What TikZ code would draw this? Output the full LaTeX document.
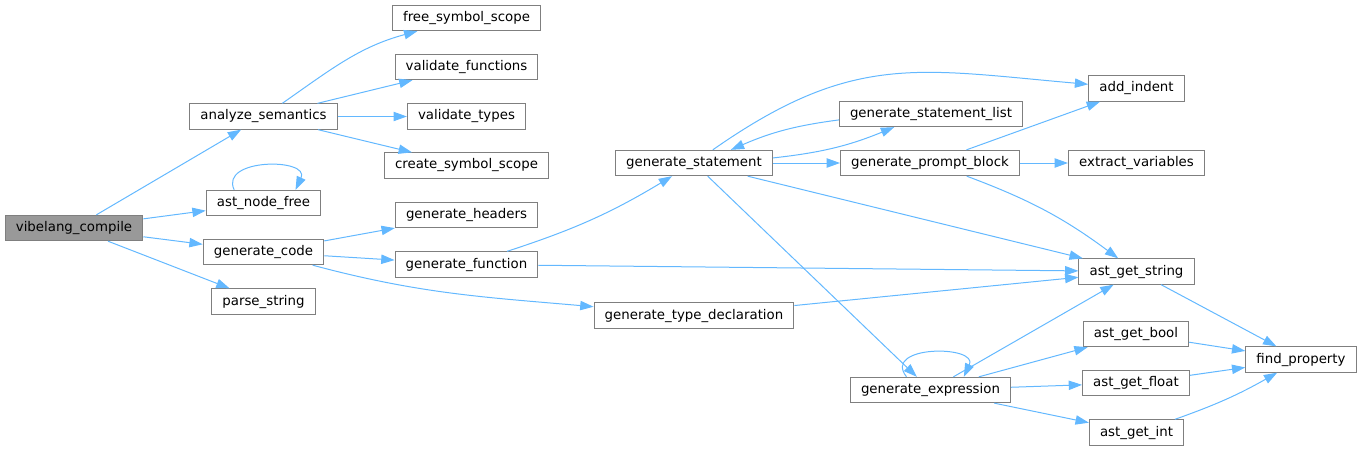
\documentclass[tikz,border=0pt]{standalone}
\usepackage{fontspec}
\setmainfont{DejaVu Sans}
\usetikzlibrary{arrows.meta}
\definecolor{edgeblue}{HTML}{63B8FF}
\definecolor{boxgray}{HTML}{7F7F7F}
\definecolor{rootgray}{HTML}{999999}
\tikzset{
  fn/.style={draw=boxgray, fill=white, line width=0.75pt, minimum height=19pt,
    inner xsep=8pt, inner ysep=0pt, font=\fontsize{10}{12}\selectfont},
  root/.style={fn, fill=rootgray},
  callarrow/.style={draw=edgeblue, line width=0.75pt, -{Triangle[length=10pt,width=7pt]}},
}
\begin{document}
\begin{tikzpicture}[x=0.75pt, y=0.75pt]
    \useasboundingbox (0,0) rectangle (1365,-451);

    % Startknoten
    \node[root] (compile) at (74,-228) {vibelang\_compile};

    % erste Ebene
    \node[fn] (semantics) at (263.5,-116.5) {analyze\_semantics};
    \node[fn] (nodefree) at (263.5,-203) {ast\_node\_free};
    \node[fn] (code) at (263.5,-252) {generate\_code};
    \node[fn] (parse) at (263.5,-301.5) {parse\_string};

    % zweite Ebene
    \node[fn] (freescope) at (466.5,-18) {free\_symbol\_scope};
    \node[fn] (valfun) at (466.5,-67) {validate\_functions};
    \node[fn] (valtypes) at (466.5,-116.5) {validate\_types};
    \node[fn] (createscope) at (466.5,-165.5) {create\_symbol\_scope};
    \node[fn] (headers) at (466.5,-215) {generate\_headers};
    \node[fn] (function) at (466.5,-264.5) {generate\_function};

    % dritte Ebene
    \node[fn] (statement) at (694,-163) {generate\_statement};
    \node[fn] (typedecl) at (694,-315.5) {generate\_type\_declaration};

    % vierte Ebene
    \node[fn] (stmtlist) at (931,-114) {generate\_statement\_list};
    \node[fn] (prompt) at (930,-163) {generate\_prompt\_block};
    \node[fn] (expression) at (930.5,-390) {generate\_expression};

    % fuenfte Ebene
    \node[fn] (indent) at (1136.5,-88.5) {add\_indent};
    \node[fn] (extract) at (1136.5,-163) {extract\_variables};
    \node[fn] (getstring) at (1136.5,-271.5) {ast\_get\_string};
    \node[fn] (getbool) at (1136,-334) {ast\_get\_bool};
    \node[fn] (getfloat) at (1136,-383) {ast\_get\_float};
    \node[fn] (getint) at (1136.5,-432.5) {ast\_get\_int};

    % letzte Ebene
    \node[fn] (findprop) at (1301,-359.5) {find\_property};

    % Aufrufe von vibelang_compile
    \draw[callarrow] (compile) -- (semantics);
    \draw[callarrow] (compile) -- (nodefree);
    \draw[callarrow] (compile) -- (code);
    \draw[callarrow] (compile) -- (parse);
    \draw[callarrow] ([xshift=-22pt]nodefree.north) .. controls +(-15,32) and +(15,32) .. ([xshift=24pt]nodefree.north);

    % Aufrufe von analyze_semantics
    \draw[callarrow] (semantics) to[out=35, in=195] (freescope);
    \draw[callarrow] (semantics) -- (valfun);
    \draw[callarrow] (semantics) -- (valtypes);
    \draw[callarrow] (semantics) -- (createscope);

    % Aufrufe von generate_code
    \draw[callarrow] (code) -- (headers);
    \draw[callarrow] (code) -- (function);
    \draw[callarrow] (code) to[out=-15, in=175] (typedecl);

    % generate_function und generate_type_declaration
    \draw[callarrow] (function) to[out=18, in=211] (statement);
    \draw[callarrow] (function) -- (getstring);
    \draw[callarrow] (typedecl) -- (getstring);

    % generate_statement
    \draw[callarrow] (statement) to[out=35, in=175, looseness=1.15] (indent);
    \draw[callarrow] (statement) to[bend right=8] (stmtlist);
    \draw[callarrow] (stmtlist) to[bend right=8] (statement);
    \draw[callarrow] (statement) -- (prompt);
    \draw[callarrow] (statement) -- (getstring);
    \draw[callarrow] (statement) -- (expression);

    % generate_prompt_block
    \draw[callarrow] (prompt) -- (indent);
    \draw[callarrow] (prompt) -- (extract);
    \draw[callarrow] (prompt) to[bend left=8] (getstring);

    % generate_expression
    \draw[callarrow] ([xshift=-18pt]expression.north) .. controls +(-25,32) and +(15,32) .. ([xshift=25pt]expression.north);
    \draw[callarrow] (expression) -- (getstring);
    \draw[callarrow] (expression) -- (getbool);
    \draw[callarrow] (expression) -- (getfloat);
    \draw[callarrow] (expression) -- (getint);

    % find_property
    \draw[callarrow] (getstring) -- (findprop);
    \draw[callarrow] (getbool) -- (findprop);
    \draw[callarrow] (getfloat) -- (findprop);
    \draw[callarrow] (getint) to[bend right=5] (findprop);
\end{tikzpicture}
\end{document}
